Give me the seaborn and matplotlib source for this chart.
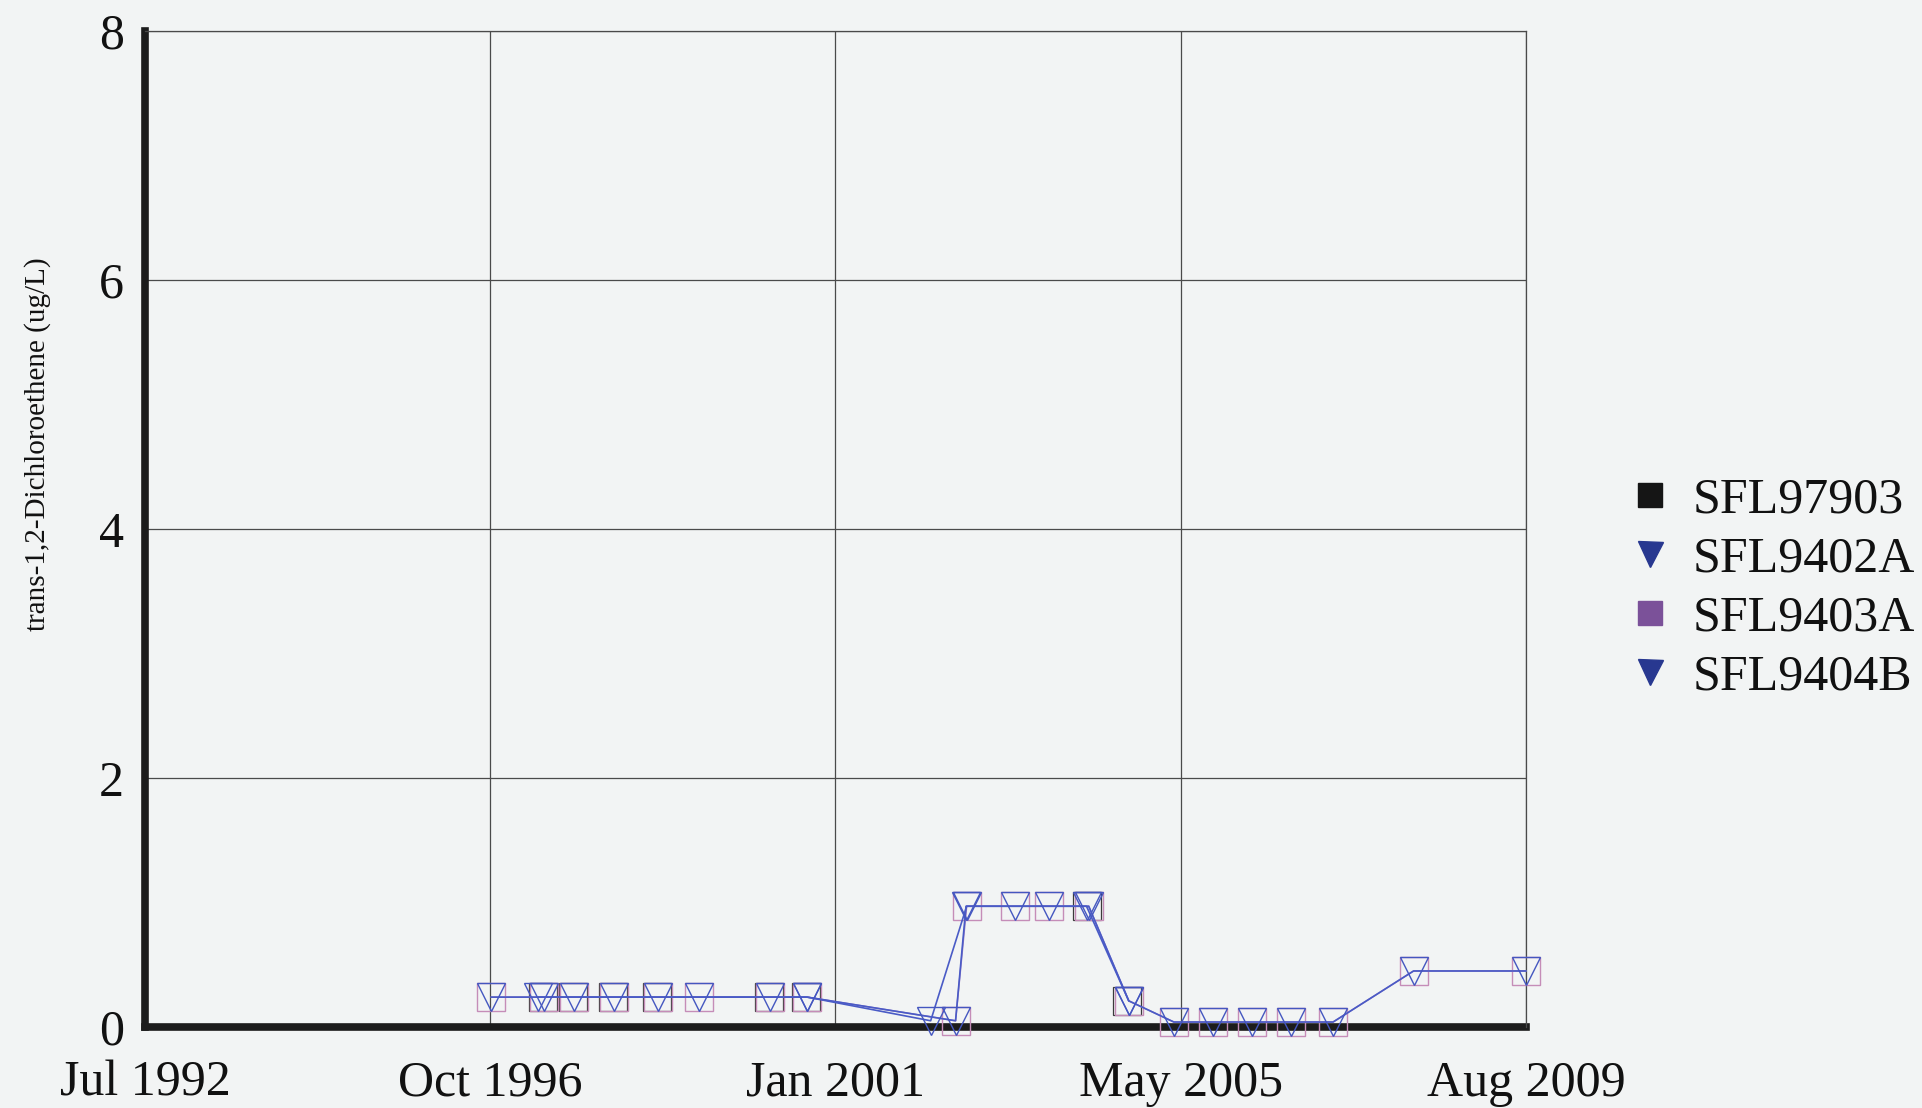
import matplotlib
matplotlib.use("Agg")
import matplotlib.pyplot as plt
from matplotlib.lines import Line2D
import pandas as pd
import seaborn as sns

# Sampling dates and trans-1,2-DCE concentrations (ug/L) per well
dates_9402a = ["1996-11-04", "1997-06-29", "1997-11-12", "1998-05-13", "1998-11-24",
               "1999-05-29", "2000-04-11", "2000-09-26", "2002-04-04", "2002-09-13",
               "2003-04-17", "2003-09-17", "2004-03-15", "2004-09-11", "2005-04-02",
               "2005-09-23", "2006-03-21", "2006-09-12", "2007-03-19", "2008-03-15",
               "2009-08-03"]
vals_9402a = [0.24, 0.24, 0.24, 0.24, 0.24, 0.24, 0.24, 0.24, 0.05, 0.97,
              0.97, 0.97, 0.97, 0.21, 0.04, 0.04, 0.04, 0.04, 0.04, 0.45,
              0.45]

dates_9404b = ["1997-06-05", "2000-09-26", "2002-07-25", "2002-09-10", "2004-03-05",
               "2004-09-11"]
vals_9404b = [0.24, 0.24, 0.05, 0.97, 0.97, 0.21]

dates_9403a = ["1996-11-04", "1997-06-29", "1997-11-12", "1998-05-13", "1998-11-24",
               "1999-05-29", "2000-04-11", "2000-09-26", "2002-07-25", "2002-09-13",
               "2003-04-17", "2003-09-17", "2004-03-15", "2004-09-11", "2005-04-02",
               "2005-09-23", "2006-03-21", "2006-09-12", "2007-03-19", "2008-03-15",
               "2009-08-03"]
vals_9403a = [0.24, 0.24, 0.24, 0.24, 0.24, 0.24, 0.24, 0.24, 0.05, 0.97,
              0.97, 0.97, 0.97, 0.21, 0.04, 0.04, 0.04, 0.04, 0.04, 0.45,
              0.45]

dates_97903 = ["1997-06-25", "1997-11-08", "1998-05-08", "1998-11-20", "2000-04-05",
               "2000-09-22", "2004-03-05", "2004-09-05"]
vals_97903 = [0.24, 0.24, 0.24, 0.24, 0.24, 0.24, 0.97, 0.21]

legend_labels = ["SFL97903", "SFL9402A", "SFL9403A", "SFL9404B"]
tick_dates = ["1992-07-31", "1996-10-31", "2001-01-31", "2005-05-03", "2009-08-03"]
tick_labels = ["Jul 1992", "Oct 1996", "Jan 2001", "May 2005", "Aug 2009"]
y_ticks = [0, 2, 4, 6, 8]
y_label = "trans-1,2-Dichloroethene (ug/L)"

bg = "#f2f4f4"
ink = "#1c1c1c"
grid_c = "#4a4a4a"

sns.set_theme(style="white")
plt.rcParams["font.family"] = ["Liberation Serif", "DejaVu Serif"]

fig = plt.figure(figsize=(19.22, 11.08), dpi=100, facecolor=bg)
ax = fig.add_axes([0.0754, 0.0731, 0.7186, 0.8989], facecolor=bg)


def draw(dates, vals, marker, edge, line, lw, mew=1.0):
    df = pd.DataFrame({"date": pd.to_datetime(dates), "value": vals})
    sns.lineplot(data=df, x="date", y="value", ax=ax, estimator=None, sort=False,
                 color=line, linewidth=lw, marker=marker, markersize=20,
                 markerfacecolor="none", markeredgecolor=edge,
                 markeredgewidth=mew, clip_on=False, zorder=3)


draw(dates_97903, vals_97903, "s", "#3a3a3a", "#3a3a3a", 0, 0.9)
draw(dates_9403a, vals_9403a, "s", "#c58db8", "#9b7cc4", 1.1)
draw(dates_9404b, vals_9404b, "v", "#4456c0", "#4a5bc6", 1.2)
draw(dates_9402a, vals_9402a, "v", "#4456c0", "#4a5bc6", 1.2)

ax.set_xlim(pd.Timestamp(tick_dates[0]), pd.Timestamp(tick_dates[-1]))
ax.set_ylim(y_ticks[0], y_ticks[-1])
ax.set_xticks(pd.to_datetime(tick_dates))
ax.set_xticklabels(tick_labels)
ax.set_yticks(y_ticks)
ax.set_yticklabels([str(v) for v in y_ticks])
ax.set_xlabel("")
ax.set_ylabel("")

ax.grid(True, color=grid_c, linewidth=0.9)
ax.set_axisbelow(True)
for side in ("top", "right"):
    ax.spines[side].set_visible(True)
    ax.spines[side].set_color(grid_c)
    ax.spines[side].set_linewidth(0.9)
for side in ("left", "bottom"):
    ax.spines[side].set_color(ink)
    ax.spines[side].set_linewidth(5.5)
    ax.spines[side].set_zorder(2)

ax.tick_params(axis="x", direction="inout", length=40, width=4, color=ink,
               pad=4, labelsize=36, labelcolor="#111111")
ax.tick_params(axis="y", direction="inout", length=28, width=3, color=ink,
               pad=1, labelsize=36, labelcolor="#111111")

fig.text(38 / 1922, 1 - 444 / 1108, y_label, rotation=90, ha="center", va="center",
         fontsize=21, color="#111111")

handles = [
    Line2D([], [], marker="s", linestyle="none", markersize=17,
           markerfacecolor="#151515", markeredgecolor="#151515"),
    Line2D([], [], marker="v", linestyle="none", markersize=18,
           markerfacecolor="#283890", markeredgecolor="#283890"),
    Line2D([], [], marker="s", linestyle="none", markersize=17,
           markerfacecolor="#7b5199", markeredgecolor="#7b5199"),
    Line2D([], [], marker="v", linestyle="none", markersize=18,
           markerfacecolor="#283890", markeredgecolor="#283890"),
]
fig.legend(handles, legend_labels, loc="center left",
           bbox_to_anchor=(1625 / 1922, 0.469), frameon=False, fontsize=36,
           handlelength=1.0, handletextpad=0.35, labelspacing=0.25,
           borderpad=0, borderaxespad=0, labelcolor="#111111")

fig.savefig("out.png", dpi=100, facecolor=bg)
